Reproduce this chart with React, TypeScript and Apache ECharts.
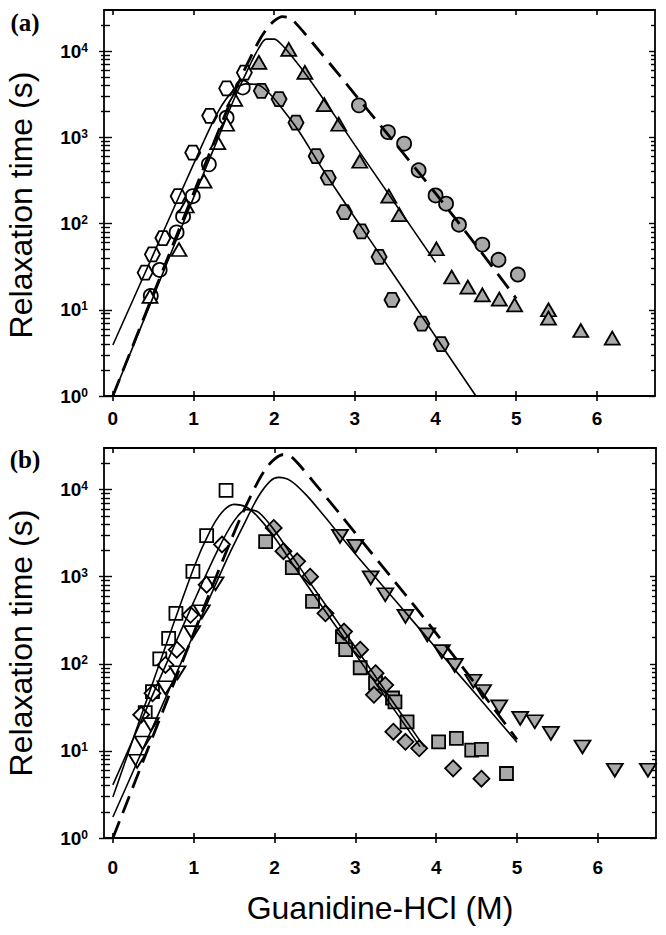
import React, { useEffect, useRef } from 'react';
import * as echarts from 'echarts';

// ---------- tick values ----------
const xTickValues = [0, 1, 2, 3, 4, 5, 6];
const yMajorTicks = [1, 10, 100, 1000, 10000];
const yMinorTicks = [2, 3, 4, 5, 6, 7, 8, 9, 20, 30, 40, 50, 60, 70, 80, 90, 200, 300, 400, 500, 600, 700, 800, 900, 2000, 3000, 4000, 5000, 6000, 7000, 8000, 9000, 20000];

// ---------- panel (a) data ----------
const aOpenHex = [[0.40, 27], [0.49, 44], [0.62, 68], [0.81, 208], [0.99, 665], [1.20, 1780], [1.41, 3700], [1.63, 5640]];
const aOpenCircle = [[0.47, 14.5], [0.58, 29], [0.79, 79], [0.87, 121], [0.99, 208], [1.19, 486], [1.41, 1690], [1.61, 3790]];
const aOpenTri = [[0.46, 14.3], [0.82, 50], [0.91, 160], [1.13, 310], [1.30, 870], [1.41, 1420], [1.51, 2760]];
const aGrayTri = [[1.81, 7400], [2.18, 10500], [2.38, 5660], [2.62, 2400], [2.80, 1420], [3.06, 528], [3.42, 208], [3.55, 127], [4.01, 51], [4.20, 24], [4.40, 18.3], [4.58, 14.9], [4.79, 13.3], [4.98, 11.4], [5.40, 10], [5.40, 8], [5.80, 5.75], [6.19, 4.7]];
const aGrayHex = [[1.84, 3460], [2.06, 2780], [2.27, 1480], [2.52, 605], [2.67, 340], [2.87, 136], [3.08, 81], [3.30, 41], [3.46, 13], [3.83, 6.9], [4.07, 4.0]];
const aGrayCircle = [[3.05, 2350], [3.41, 1150], [3.61, 845], [3.79, 415], [4.0, 212], [4.13, 170], [4.29, 97], [4.58, 57], [4.78, 38], [5.02, 25.6]];

const aFitHex = [[0, 3.9], [0.5, 43.7], [1.0, 490], [1.3, 1950], [1.5, 3550], [1.65, 4170], [1.8, 4070], [1.95, 3160], [2.1, 2140], [2.3, 1200], [2.6, 427], [3.0, 117], [3.5, 24], [4.0, 4.9], [4.5, 1]];
const aFitTri = [[0, 1], [0.5, 14.1], [1.0, 200], [1.3, 955], [1.5, 2750], [1.7, 6920], [1.8, 10500], [1.9, 13800], [2.0, 13800], [2.1, 11700], [2.2, 9120], [2.4, 5250], [2.7, 2090], [3.0, 813], [3.5, 170], [4.0, 35.5]];
const refFitDashed = [[0, 1], [0.5, 15.1], [1.0, 224], [1.4, 1910], [1.6, 5250], [1.8, 12600], [1.9, 17800], [2.0, 22400], [2.1, 25100], [2.2, 24000], [2.3, 19500], [2.5, 11700], [2.8, 5370], [3.0, 3160], [3.5, 851], [4.0, 224], [4.5, 56.2], [5.0, 13.5]];

// ---------- panel (b) data ----------
const bOpenSquare = [[0.40, 27.5], [0.49, 48], [0.58, 114], [0.69, 196], [0.78, 380], [0.99, 1150], [1.16, 2960], [1.40, 9800]];
const bOpenDiamond = [[0.35, 26], [0.49, 46], [0.65, 97], [0.79, 145], [0.96, 365], [1.16, 810], [1.35, 2340]];
const bOpenDownTri = [[0.30, 7.6], [0.37, 12.3], [0.47, 20], [0.65, 53], [0.80, 79], [0.98, 228], [1.10, 395], [1.27, 830]];
const bGrayDiamond = [[1.99, 3630], [2.11, 1960], [2.28, 1500], [2.44, 1000], [2.63, 380], [2.86, 234], [3.06, 145], [3.25, 78], [3.37, 57], [3.23, 44], [3.47, 16.6], [3.62, 12.7], [3.79, 10.7], [4.21, 6.3], [4.56, 4.8]];
const bGraySquare = [[1.89, 2520], [2.22, 1270], [2.47, 520], [2.84, 205], [2.88, 145], [3.06, 90], [3.25, 60], [3.46, 40.5], [3.49, 36.5], [3.64, 21.5], [4.03, 12.7], [4.25, 13.9], [4.44, 10.2], [4.56, 10.4], [4.87, 5.5]];
const bGrayDownTri = [[2.81, 2900], [3.0, 2230], [3.19, 970], [3.37, 620], [3.62, 350], [3.89, 215], [4.07, 138], [4.23, 96], [4.46, 63], [4.58, 48], [4.78, 32], [5.04, 23.6], [5.22, 21.6], [5.42, 15.9], [5.81, 11.1], [6.21, 6.0], [6.62, 6.0]];

const bFitSquare = [[0, 2.95], [0.5, 63.1], [1.0, 1260], [1.2, 3310], [1.35, 5500], [1.5, 6760], [1.65, 6310], [1.8, 4790], [2.0, 2820], [2.3, 1100], [2.6, 437], [3.0, 129], [3.4, 38], [3.8, 11.2]];
const bFitDiamond = [[0, 4.07], [0.5, 45.7], [1.0, 513], [1.3, 2040], [1.5, 4370], [1.65, 5890], [1.8, 5500], [2.0, 3390], [2.2, 1820], [2.5, 708], [3.0, 155], [3.4, 44.7], [3.85, 11.2]];
const bFitDownTri = [[0, 1.74], [0.5, 19.5], [1.0, 219], [1.4, 1510], [1.6, 3630], [1.8, 8320], [1.95, 12600], [2.05, 13800], [2.2, 12600], [2.4, 8510], [2.7, 3980], [3.0, 1820], [3.5, 525], [4.0, 151], [4.5, 43.7], [5.0, 12.6]];

const SANS = '"Liberation Sans", Arial, Helvetica, sans-serif';
const SERIF = '"Liberation Serif", "Times New Roman", serif';
const HEX = 'path://M0,43 L25,0 L75,0 L100,43 L75,86 L25,86 Z';
const GRAY = '#a9a9a9';
const X_MIN = -0.11;
const X_MAX = 6.72;
const Y_MIN = 1;
const Y_MAX = 30000;

const grids = [
  { left: 104, top: 10, width: 551, height: 386 },
  { left: 104, top: 448, width: 552, height: 390 },
];
const xLabelMargin = [13, 20];

function buildAxes() {
  const xAxis: any[] = [];
  const yAxis: any[] = [];
  grids.forEach((_, g) => {
    const xBase = {
      type: 'value', gridIndex: g, min: X_MIN, max: X_MAX,
      splitLine: { show: false },
    };
    xAxis.push({
      ...xBase, position: 'bottom',
      axisLine: { show: true, onZero: false, lineStyle: { color: '#000', width: 1.8 } },
      axisTick: { show: true, customValues: xTickValues, inside: false, length: 5, lineStyle: { color: '#000', width: 1.6 } },
      axisLabel: {
        show: true, customValues: xTickValues, margin: xLabelMargin[g],
        fontSize: 19, fontWeight: 'bold', fontFamily: SANS, color: '#000',
      },
    });
    xAxis.push({
      ...xBase, position: 'bottom',
      axisLine: { show: false, onZero: false },
      axisTick: { show: true, customValues: xTickValues, inside: true, length: 5, lineStyle: { color: '#000', width: 1.6 } },
      axisLabel: { show: false },
    });
    xAxis.push({
      ...xBase, position: 'top',
      axisLine: { show: true, onZero: false, lineStyle: { color: '#000', width: 1.8 } },
      axisTick: { show: true, customValues: xTickValues, inside: true, length: 5, lineStyle: { color: '#000', width: 1.6 } },
      axisLabel: { show: false },
    });

    const yBase = {
      type: 'log', logBase: 10, gridIndex: g, min: Y_MIN, max: Y_MAX,
      splitLine: { show: false }, minorTick: { show: false },
    };
    const tickStyle = { color: '#000', width: 1.4 };
    yAxis.push({
      ...yBase, position: 'left',
      axisLine: { show: true, onZero: false, lineStyle: { color: '#000', width: 1.8 } },
      axisTick: { show: true, customValues: yMajorTicks, inside: false, length: 5, lineStyle: tickStyle },
      axisLabel: {
        show: true, customValues: yMajorTicks, margin: 16,
        formatter: (v: number) => `{b|10}{s|${Math.round(Math.log10(v))}}`,
        rich: {
          b: { fontSize: 19, fontWeight: 'bold', fontFamily: SANS, color: '#000' },
          s: { fontSize: 12, fontWeight: 'bold', fontFamily: SANS, color: '#000', verticalAlign: 'top' },
        },
      },
    });
    yAxis.push({
      ...yBase, position: 'left',
      axisLine: { show: false, onZero: false },
      axisTick: { show: true, customValues: yMajorTicks, inside: true, length: 8, lineStyle: tickStyle },
      axisLabel: { show: false },
    });
    yAxis.push({
      ...yBase, position: 'left',
      axisLine: { show: false, onZero: false },
      axisTick: { show: true, customValues: yMinorTicks, inside: false, length: 3, lineStyle: tickStyle },
      axisLabel: { show: false },
    });
    yAxis.push({
      ...yBase, position: 'left',
      axisLine: { show: false, onZero: false },
      axisTick: { show: true, customValues: yMinorTicks, inside: true, length: 6, lineStyle: tickStyle },
      axisLabel: { show: false },
    });
    yAxis.push({
      ...yBase, position: 'right',
      axisLine: { show: true, onZero: false, lineStyle: { color: '#000', width: 1.8 } },
      axisTick: { show: true, customValues: yMajorTicks, inside: true, length: 6, lineStyle: tickStyle },
      axisLabel: { show: false },
    });
    yAxis.push({
      ...yBase, position: 'right',
      axisLine: { show: false, onZero: false },
      axisTick: { show: true, customValues: yMinorTicks, inside: true, length: 4, lineStyle: tickStyle },
      axisLabel: { show: false },
    });
  });
  return { xAxis, yAxis };
}

function scatter(g: number, data: number[][], symbol: string, size: any, fill: string, rotate = 0) {
  return {
    type: 'scatter', xAxisIndex: g * 3, yAxisIndex: g * 6, data,
    symbol, symbolSize: size, symbolRotate: rotate,
    itemStyle: { color: fill, borderColor: '#000', borderWidth: 1.8, opacity: 1 },
    z: 2, silent: true,
  };
}

function fit(g: number, data: number[][], dashed = false) {
  return {
    type: 'line', xAxisIndex: g * 3, yAxisIndex: g * 6, data,
    showSymbol: false, symbol: 'none', smooth: 0.3,
    lineStyle: dashed
      ? { color: '#000', width: 2.8, type: [18, 9] }
      : { color: '#000', width: 1.6, type: 'solid' },
    z: 3, silent: true,
  };
}

export default function App() {
  const ref = useRef<HTMLDivElement>(null);
  useEffect(() => {
    if (!ref.current) return;
    const chart = echarts.init(ref.current, null, { renderer: 'svg' });
    const { xAxis, yAxis } = buildAxes();
    chart.setOption({
      animation: false,
      backgroundColor: '#fff',
      grid: grids,
      xAxis,
      yAxis,
      series: [
        scatter(0, aOpenCircle, 'circle', 14, '#fff'),
        scatter(0, aOpenTri, 'triangle', [15, 13], '#fff'),
        scatter(0, aOpenHex, HEX, [15, 14], '#fff'),
        scatter(0, aGrayCircle, 'circle', 14, GRAY),
        scatter(0, aGrayTri, 'triangle', [15, 13], GRAY),
        scatter(0, aGrayHex, HEX, [15, 14], GRAY),
        fit(0, aFitHex),
        fit(0, aFitTri),
        fit(0, refFitDashed, true),

        scatter(1, bOpenSquare, 'rect', 13, '#fff'),
        scatter(1, bOpenDiamond, 'diamond', [16, 16], '#fff'),
        scatter(1, bOpenDownTri, 'triangle', [16, 13], '#fff', 180),
        scatter(1, bGrayDownTri, 'triangle', [16, 13], GRAY, 180),
        scatter(1, bGraySquare, 'rect', 13, GRAY),
        scatter(1, bGrayDiamond, 'diamond', [16, 16], GRAY),
        fit(1, bFitSquare),
        fit(1, bFitDiamond),
        fit(1, bFitDownTri),
        fit(1, refFitDashed, true),
      ],
      graphic: [
        { type: 'text', x: 25, y: 22, style: { text: '(a)', font: `bold 25px ${SERIF}`, fill: '#000', align: 'center', verticalAlign: 'middle' } },
        { type: 'text', x: 25, y: 459, style: { text: '(b)', font: `bold 25px ${SERIF}`, fill: '#000', align: 'center', verticalAlign: 'middle' } },
        { type: 'text', x: 21, y: 205, rotation: Math.PI / 2, style: { text: 'Relaxation time (s)', font: `32px ${SANS}`, fill: '#000', align: 'center', verticalAlign: 'middle' } },
        { type: 'text', x: 21, y: 643, rotation: Math.PI / 2, style: { text: 'Relaxation time (s)', font: `32px ${SANS}`, fill: '#000', align: 'center', verticalAlign: 'middle' } },
        { type: 'text', x: 380, y: 908, style: { text: 'Guanidine-HCl (M)', font: `32px ${SANS}`, fill: '#000', align: 'center', verticalAlign: 'middle' } },
      ],
    });
    return () => chart.dispose();
  }, []);
  return <div ref={ref} style={{ width: 666, height: 935, position: 'absolute', left: 0, top: 0 }} />;
}
